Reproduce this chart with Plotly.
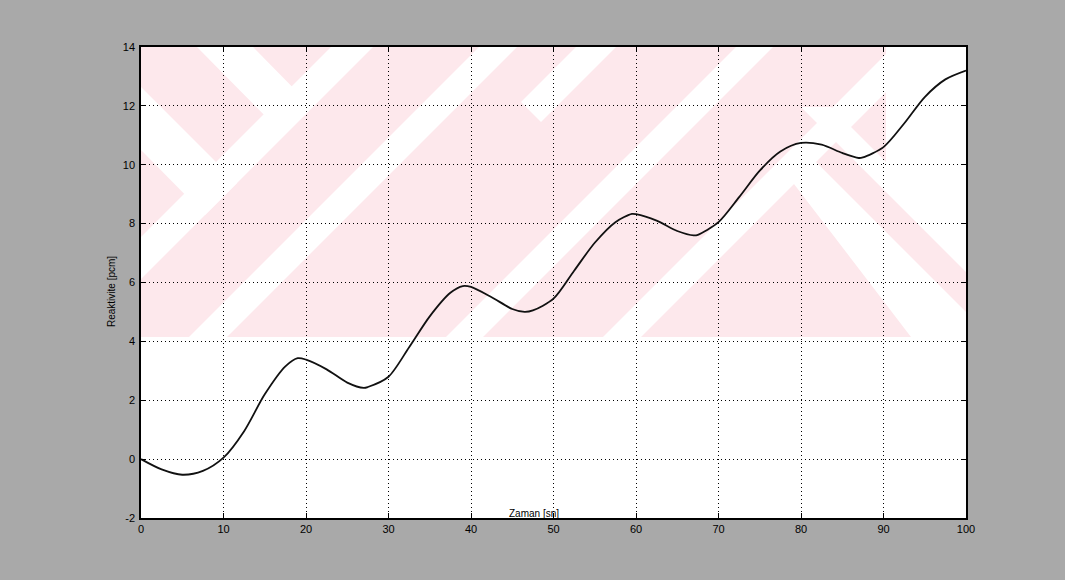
import plotly.graph_objects as go

# Zaman ekseni (sn) ve ölçülen reaktivite değerleri
zaman = [0, 2.5, 5, 7.5, 10, 12.5, 15, 17.5, 19, 20, 22.5, 25, 27, 27.5, 30,
         32.5, 35, 37.5, 39, 40, 42.5, 45, 46.5, 47.5, 50, 52.5, 55, 57.5,
         59.5, 60, 62.5, 65, 67, 67.5, 70, 72.5, 75, 77.5, 80, 82.5, 85, 87,
         87.5, 90, 92.5, 95, 97.5, 100]
reaktivite = [0.00, -0.35, -0.53, -0.40, 0.05, 0.95, 2.20, 3.15, 3.43, 3.38,
              3.05, 2.60, 2.42, 2.45, 2.80, 3.80, 4.85, 5.65, 5.88, 5.85,
              5.50, 5.10, 5.00, 5.05, 5.45, 6.40, 7.35, 8.05, 8.33, 8.32,
              8.10, 7.75, 7.60, 7.62, 8.05, 8.90, 9.80, 10.45, 10.74, 10.68,
              10.40, 10.23, 10.25, 10.60, 11.40, 12.30, 12.90, 13.20]

x_ticks = [0, 10, 20, 30, 40, 50, 60, 70, 80, 90, 100]
x_labels = ["0", "10", "20", "30", "40", "50", "60", "70", "80", "90", "100"]
y_ticks = [-2, 0, 2, 4, 6, 8, 10, 12, 14]
y_labels = ["-2", "0", "2", "4", "6", "8", "10", "12", "14"]

X_MIN, X_MAX = 0, 100
Y_MIN, Y_MAX = -2, 14
PLOT_W, PLOT_H = 825, 471  # plot area size in px


def to_data(u, v):
    """Pixel offset from the top-left corner of the plot area -> data coords."""
    return (X_MIN + u * (X_MAX - X_MIN) / PLOT_W,
            Y_MAX - v * (Y_MAX - Y_MIN) / PLOT_H)


def polygon(pts, color):
    d = []
    for i, (u, v) in enumerate(pts):
        x, y = to_data(u, v)
        d.append(("M" if i == 0 else "L") + f"{x:.3f},{y:.3f}")
    return dict(type="path", path=" ".join(d) + " Z", xref="x", yref="y",
                fillcolor=color, line=dict(width=0), layer="below")


def slash_band(c0, c1, v_top=0, v_bot=290):
    # band bounded by u+v=c0 and u+v=c1
    return [(c0 - v_top, v_top), (c1 - v_top, v_top), (c1 - v_bot, v_bot), (c0 - v_bot, v_bot)]


PINK = "#fde8ec"
WHITE = "#ffffff"

shapes = []
# faded watermark: pink field with white diagonal bands
x0, y0 = to_data(0, 290)
shapes.append(dict(type="rect", xref="x", yref="y", x0=x0, x1=X_MAX, y0=y0, y1=Y_MAX,
                   fillcolor=PINK, line=dict(width=0), layer="below"))
for c0, c1 in [(190, 232), (338, 376), (752, 790)]:
    shapes.append(polygon(slash_band(c0, c1), WHITE))
shapes.append(polygon([(435, 0), (475, 0), (400, 75), (380, 55)], WHITE))
shapes.append(polygon(slash_band(595, 632, 0, 290), WHITE))
# back-slash bands
shapes.append(polygon([(56, 0), (112, 0), (171, 60), (143, 88)], WHITE))
shapes.append(polygon([(0, 40), (0, 103), (64, 168), (96, 136)], WHITE))
shapes.append(polygon([(640, 120), (660, 100), (850, 290), (770, 290)], WHITE))
shapes.append(polygon([(660, 60), (690, 60), (825, 195), (825, 225)], WHITE))
shapes.append(polygon([(745, 0), (825, 0), (825, 200), (745, 120)], WHITE))

fig = go.Figure()
fig.add_trace(go.Scatter(
    x=zaman, y=reaktivite, mode="lines",
    line=dict(color="#111111", width=1.8, shape="spline", smoothing=0.8),
    showlegend=False, hoverinfo="skip",
))

axis_common = dict(
    showline=True, linecolor="black", linewidth=1.5, mirror="allticks",
    ticks="inside", ticklen=5, tickwidth=1.2, tickcolor="black",
    showgrid=True, gridcolor="black", gridwidth=1, griddash="1px,3px",
    zeroline=False,
    tickfont=dict(family="Liberation Sans, Arial, sans-serif", size=11, color="black"),
)

fig.update_xaxes(range=[X_MIN, X_MAX], tickvals=x_ticks, ticktext=x_labels,
                 ticklabelstandoff=0, **axis_common)
fig.update_yaxes(range=[Y_MIN, Y_MAX], tickvals=y_ticks, ticktext=y_labels,
                 ticklabelstandoff=2, **axis_common)

fig.update_layout(
    width=1065, height=580,
    margin=dict(l=141, r=99, t=47, b=62),
    paper_bgcolor="#a9a9a9",
    plot_bgcolor="white",
    shapes=shapes,
    annotations=[
        dict(text="Zaman [sn]", xref="paper", yref="paper", x=0.476, y=0.0085,
             xanchor="center", yanchor="middle", showarrow=False,
             font=dict(family="Liberation Sans, Arial, sans-serif", size=10, color="black")),
        dict(text="Reaktivite [pcm]", xref="paper", yref="paper", x=-0.035, y=0.48,
             xanchor="center", yanchor="middle", textangle=-90, showarrow=False,
             font=dict(family="Liberation Sans, Arial, sans-serif", size=10, color="black")),
    ],
)

fig.write_html("out.html")
